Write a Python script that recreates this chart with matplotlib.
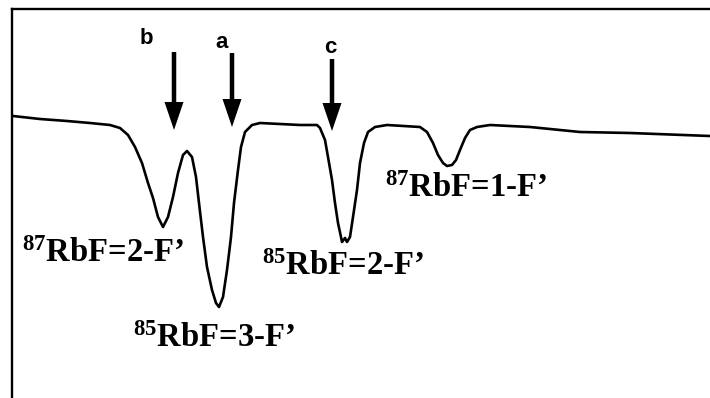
import matplotlib
matplotlib.use("Agg")
import matplotlib.pyplot as plt

# saturated absorption trace of the Rb D2 line (relative frequency, signal in a.u.)
freq = [1, 28, 55, 78, 98, 108, 116, 123, 130, 136, 141, 146, 151, 156, 161,
        166, 171, 175, 180, 184, 187, 191, 195, 200, 204, 207, 211, 215, 219,
        222, 226, 229, 233, 240, 248, 268, 288, 305, 308, 313, 316, 320, 323,
        326, 329, 330, 333, 335, 338, 341, 345, 348, 352, 356, 363, 375, 408,
        415, 421, 426, 431, 435, 440, 444, 448, 453, 458, 465, 478, 518, 568,
        618, 698]
signal = [284, 281, 279, 277, 275, 272, 265, 253, 237, 217, 202, 183, 173, 183,
          203, 227, 245, 249, 243, 223, 197, 163, 133, 110, 97, 93, 103, 130,
          163, 197, 230, 253, 268, 275, 277, 276, 275, 275, 272, 260, 243, 220,
          197, 177, 163, 158, 162, 158, 163, 183, 210, 237, 257, 268, 273, 275,
          273, 268, 257, 245, 237, 234, 235, 240, 250, 262, 270, 273, 275, 273,
          268, 267, 264]

# arrows marking the lock points: name, position, arrow top, arrow tip
marks = ["b", "a", "c"]
mark_freq = [162, 220, 320]
mark_top = [348, 347, 341]
mark_tip = [270, 273, 269]
mark_label_xy = [(134, 362), (210, 358), (318, 353)]

# hyperfine transition labels
lines = [r"$^{87}$RbF=2-F’", r"$^{85}$RbF=3-F’",
         r"$^{85}$RbF=2-F’", r"$^{87}$RbF=1-F’"]
lines_xy = [(10, 138), (121, 53), (250, 125), (373, 203)]

plt.rcParams["mathtext.fontset"] = "custom"
plt.rcParams["mathtext.rm"] = "Liberation Serif:bold"
plt.rcParams["mathtext.it"] = "Liberation Serif:bold"
plt.rcParams["mathtext.bf"] = "Liberation Serif:bold"

fig = plt.figure(figsize=(7.1, 3.98), dpi=100)
ax = fig.add_axes([12 / 710, 0, 698 / 710, 389 / 398])
ax.set_xlim(0, 698)
ax.set_ylim(2, 391)

ax.plot(freq, signal, color="black", lw=1.9, solid_joinstyle="round")

for m, x, top, tip, (lx, ly) in zip(marks, mark_freq, mark_top, mark_tip, mark_label_xy):
    ax.arrow(x, top, 0, tip - top, width=4.5, head_width=19, head_length=28,
             length_includes_head=True, color="black", lw=0)
    ax.text(lx, ly, m, fontsize=16, fontweight="bold", family="Liberation Sans",
            ha="center", va="center")

for s, (x, y) in zip(lines, lines_xy):
    ax.text(x, y, s, fontsize=23.5, fontweight="bold", family="Liberation Serif",
            ha="left", va="baseline")

ax.set_xticks([])
ax.set_yticks([])
for side in ("right", "bottom"):
    ax.spines[side].set_visible(False)
for side in ("left", "top"):
    ax.spines[side].set_linewidth(1.7)

fig.savefig("out.png", dpi=100)
